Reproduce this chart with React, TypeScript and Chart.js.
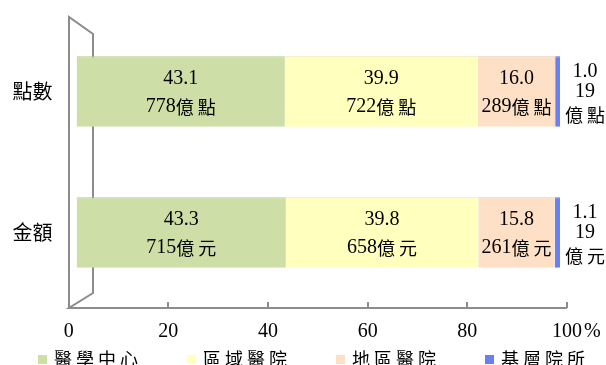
import React, { useEffect, useRef } from 'react';
import { Chart, registerables } from 'chart.js';

Chart.register(...registerables);

// ---- data ----
const categories = ['點數', '金額'];
const seriesNames = ['醫學中心', '區域醫院', '地區醫院', '基層院所'];
const medicalCenterPct = [43.1, 43.3];
const regionalPct = [39.9, 39.8];
const districtPct = [16.0, 15.8];
const clinicPct = [1.0, 1.1];
const medicalCenterAmt = [778, 715];
const regionalAmt = [722, 658];
const districtAmt = [289, 261];
const clinicAmt = [19, 19];
const amountUnits = ['億點', '億元'];
const xTickValues = [0, 20, 40, 60, 80, 100];

const pctSeries = [medicalCenterPct, regionalPct, districtPct, clinicPct];
const amtSeries = [medicalCenterAmt, regionalAmt, districtAmt, clinicAmt];

// ---- styles ----
const fillColors = ['#cddfa7', '#ffffbe', '#fde0c6', '#6a7ff0'];
const edgeColors = ['#b5c890', '#e6e6a8', '#e6c9b0', '#5a6ed8'];
const NUM_FONT = "20px 'Liberation Serif', 'Times New Roman', serif";
const CJK_FONT = "18px 'Noto Sans CJK TC', 'Noto Sans CJK SC', sans-serif";
const CJK_SPACING = 4;
const WALL_COLOR = '#8c8c8c';

function splitRuns(text: string) {
  const runs: { t: string; cjk: boolean }[] = [];
  for (const ch of text) {
    const cjk = ch.charCodeAt(0) > 0x2e80;
    const last = runs[runs.length - 1];
    if (last && last.cjk === cjk) last.t += ch;
    else runs.push({ t: ch, cjk });
  }
  return runs;
}

function setRunFont(ctx: any, cjk: boolean) {
  ctx.font = cjk ? CJK_FONT : NUM_FONT;
  ctx.letterSpacing = cjk ? CJK_SPACING + 'px' : '0px';
}

function measureMixed(ctx: any, text: string) {
  const runs = splitRuns(text);
  const widths = runs.map((r) => {
    setRunFont(ctx, r.cjk);
    return ctx.measureText(r.t).width;
  });
  let total = widths.reduce((a, b) => a + b, 0);
  if (runs.length && runs[runs.length - 1].cjk) total -= CJK_SPACING;
  ctx.letterSpacing = '0px';
  return { runs, widths, total };
}

function drawMixed(ctx: any, text: string, x: number, y: number, align: 'center' | 'left') {
  const { runs, widths, total } = measureMixed(ctx, text);
  let cx = align === 'center' ? x - total / 2 : x;
  ctx.textAlign = 'left';
  ctx.textBaseline = 'middle';
  ctx.fillStyle = '#000';
  runs.forEach((r, i) => {
    setRunFont(ctx, r.cjk);
    ctx.fillText(r.t, cx, y);
    cx += widths[i];
  });
  ctx.letterSpacing = '0px';
  return total;
}

const wallPlugin = {
  id: 'wall3d',
  beforeDatasetsDraw(chart: any) {
    const { ctx, chartArea: a } = chart;
    const x2 = chart.scales.x2;
    const fx = Math.round(x2.getPixelForValue(0));
    const ex = Math.round(x2.getPixelForValue(100));
    const depthX = 24;
    const topFront = a.top - 4;
    const topBack = a.top + 13;
    const floorY = Math.round(a.bottom + 5);
    const backBottom = a.bottom - 10;
    ctx.save();
    ctx.strokeStyle = WALL_COLOR;
    ctx.lineWidth = 2;
    ctx.beginPath();
    ctx.moveTo(fx, floorY);
    ctx.lineTo(fx, topFront);
    ctx.lineTo(fx + depthX, topBack);
    ctx.lineTo(fx + depthX, backBottom);
    ctx.lineTo(fx, floorY);
    ctx.lineTo(ex, floorY);
    xTickValues.forEach((v) => {
      if (v > 0) {
        const px = Math.round(x2.getPixelForValue(v));
        ctx.moveTo(px, floorY);
        ctx.lineTo(px, floorY - 6);
      }
    });
    ctx.stroke();
    ctx.restore();
  },
};

const labelPlugin = {
  id: 'barLabels',
  afterDatasetsDraw(chart: any) {
    const ctx = chart.ctx;
    ctx.save();
    chart.data.datasets.forEach((ds: any, di: number) => {
      const meta = chart.getDatasetMeta(di);
      meta.data.forEach((bar: any, j: number) => {
        const { x, y, base } = bar.getProps(['x', 'y', 'base'], true);
        const pct = (pctSeries[di][j] as number).toFixed(1);
        const amt = String(amtSeries[di][j]);
        const unit = amountUnits[j];
        if (di < 3) {
          const cx = (x + base) / 2;
          drawMixed(ctx, pct, cx, y - 12.5, 'center');
          drawMixed(ctx, amt + unit, cx, y + 15.5, 'center');
        } else {
          const cx = x + 25;
          drawMixed(ctx, pct, cx, y - 20, 'center');
          drawMixed(ctx, amt, cx, y + 0.5, 'center');
          drawMixed(ctx, unit, cx, y + 23.5, 'center');
        }
      });
    });
    // percent sign after the last axis label
    const x2 = chart.scales.x2;
    ctx.font = NUM_FONT;
    const w = ctx.measureText('100').width;
    ctx.fillStyle = '#000';
    ctx.textAlign = 'left';
    ctx.textBaseline = 'middle';
    ctx.fillText('%', x2.getPixelForValue(100) + w / 2 + 2, chart.chartArea.bottom + 29);
    ctx.restore();
  },
};

const legendPlugin = {
  id: 'bottomLegend',
  afterDraw(chart: any) {
    const ctx = chart.ctx;
    ctx.save();
    let x = 38;
    const y = 359;
    chart.data.datasets.forEach((ds: any) => {
      ctx.fillStyle = ds.backgroundColor;
      ctx.fillRect(x, y - 4, 9, 9);
      const w = drawMixed(ctx, ds.label, x + 16, y, 'left');
      x += 16 + w + 49;
    });
    ctx.restore();
  },
};

export default function App() {
  const ref = useRef<HTMLCanvasElement>(null);
  useEffect(() => {
    const chart = new Chart(ref.current as HTMLCanvasElement, {
      type: 'bar',
      data: {
        labels: categories,
        datasets: seriesNames.map((name, i) => ({
          label: name,
          data: pctSeries[i],
          backgroundColor: fillColors[i],
          borderColor: edgeColors[i],
          borderWidth: { top: 1, right: 0, bottom: 0, left: 0 },
          borderSkipped: false,
          categoryPercentage: 0.5,
          barPercentage: 1,
          xAxisID: 'x',
          yAxisID: 'y',
        })),
      },
      options: {
        indexAxis: 'y',
        animation: false,
        responsive: true,
        maintainAspectRatio: false,
        layout: { padding: { top: 21, right: 46, bottom: 22, left: 0 } },
        plugins: {
          legend: { display: false },
          tooltip: { enabled: false },
          title: { display: false },
        },
        scales: {
          x: {
            type: 'linear',
            stacked: true,
            min: 0,
            max: 100,
            display: false,
          },
          x2: {
            type: 'linear',
            position: 'bottom',
            min: 1.565,
            max: 98.6,
            grid: { display: false, drawTicks: false },
            border: { display: false },
            afterBuildTicks: (axis: any) => {
              axis.ticks = xTickValues.map((v) => ({ value: v }));
            },
            afterFit: (axis: any) => {
              axis.height = 40;
              axis.paddingLeft = 0;
              axis.paddingRight = 0;
            },
            ticks: {
              autoSkip: false,
              maxRotation: 0,
              padding: 17,
              color: '#000',
              font: { family: "'Liberation Serif', 'Times New Roman', serif", size: 20 },
              callback: (v: any) => String(v),
            },
          },
          y: {
            type: 'category',
            stacked: true,
            grid: { display: false, drawTicks: false },
            border: { display: false },
            afterFit: (axis: any) => {
              axis.width = 76.5;
              axis.paddingTop = 0;
              axis.paddingBottom = 0;
            },
            ticks: {
              padding: 24,
              color: '#000',
              font: { family: "'Noto Sans CJK TC', 'Noto Sans CJK SC', sans-serif", size: 20 },
            },
          },
        },
      },
      plugins: [wallPlugin, labelPlugin, legendPlugin],
    } as any);
    return () => chart.destroy();
  }, []);
  return (
    <div style={{ position: 'fixed', left: 0, top: 0, width: 606, height: 365, background: '#fff' }}>
      <canvas ref={ref} />
    </div>
  );
}
